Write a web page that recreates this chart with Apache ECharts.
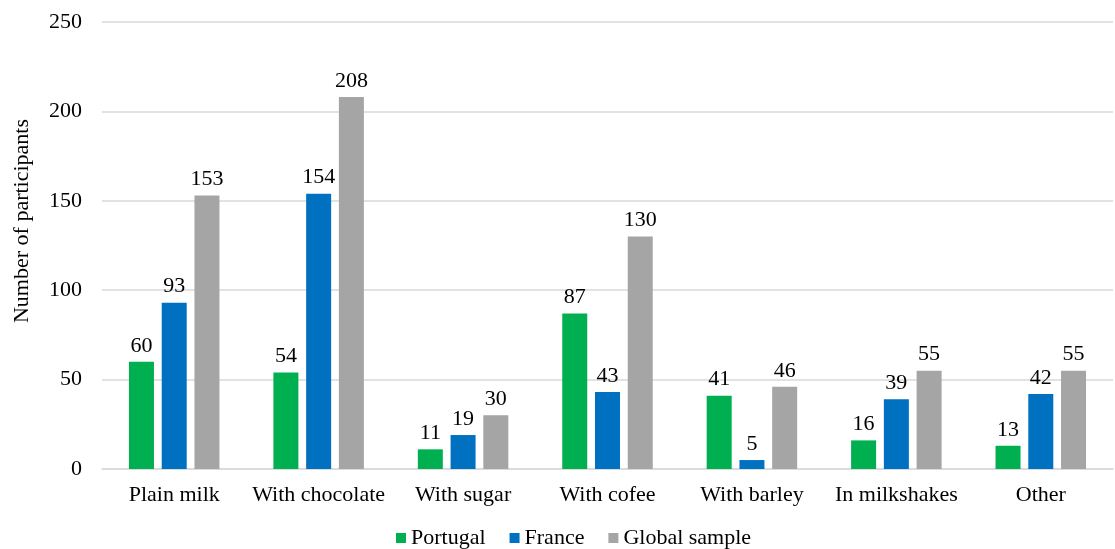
<!DOCTYPE html>
<html>
<head>
<meta charset="utf-8">
<script src="https://cdn.jsdelivr.net/npm/echarts@6/dist/echarts.min.js"></script>
<style>
  html, body { margin: 0; padding: 0; background: #fff; }
  #chart { width: 1115px; height: 549px; }
</style>
</head>
<body>
<div id="chart"></div>
<script>
// Milk consumption habits, by country
const categories = ['Plain milk', 'With chocolate', 'With sugar', 'With cofee', 'With barley', 'In milkshakes', 'Other'];
const portugal = [60, 54, 11, 87, 41, 16, 13];
const france = [93, 154, 19, 43, 5, 39, 42];
const globalSample = [153, 208, 30, 130, 46, 55, 55];
const seriesNames = ['Portugal', 'France', 'Global sample'];
const yAxisTitle = 'Number of participants';
const colors = ['#00B050', '#0070C0', '#A5A5A5'];

const font = '"Liberation Serif", "Times New Roman", serif';
const fontSize = 22;
const chart = echarts.init(document.getElementById('chart'), null, { renderer: 'canvas' });

const makeSeries = (name, data, color) => ({
  name: name,
  type: 'bar',
  data: data,
  barWidth: 25,
  barGap: '31%',
  itemStyle: { color: color },
  label: {
    show: true,
    position: 'top',
    distance: 5,
    color: '#000',
    fontFamily: font,
    fontSize: fontSize
  }
});

chart.setOption({
  animation: false,
  textStyle: { fontFamily: font },
  grid: { left: 102, right: 2, top: 22, bottom: 80, containLabel: false },
  // rotated y-axis title, reading bottom to top
  graphic: [{
    type: 'text',
    rotation: Math.PI / 2,
    x: 22,
    y: 221,
    style: {
      text: yAxisTitle,
      fill: '#000',
      font: fontSize + 'px ' + font,
      textAlign: 'center',
      textVerticalAlign: 'middle'
    }
  }],
  legend: {
    data: seriesNames,
    top: 522,
    left: 391,
    itemWidth: 10,
    itemHeight: 10,
    itemGap: 24,
    icon: 'rect',
    textStyle: { fontFamily: font, fontSize: fontSize, color: '#000' }
  },
  xAxis: {
    type: 'category',
    data: categories,
    axisLine: { show: true, lineStyle: { color: '#d9d9d9', width: 1.5 } },
    axisTick: { show: false },
    axisLabel: { color: '#000', fontFamily: font, fontSize: fontSize, margin: 15, interval: 0 }
  },
  yAxis: {
    type: 'value',
    min: 0,
    max: 250,
    interval: 50,
    axisLine: { show: false },
    axisTick: { show: false },
    axisLabel: { color: '#000', fontFamily: font, fontSize: fontSize, margin: 20 },
    splitLine: { lineStyle: { color: '#d9d9d9', width: 1.5 } }
  },
  series: [
    makeSeries(seriesNames[0], portugal, colors[0]),
    makeSeries(seriesNames[1], france, colors[1]),
    makeSeries(seriesNames[2], globalSample, colors[2])
  ]
});
</script>
</body>
</html>
